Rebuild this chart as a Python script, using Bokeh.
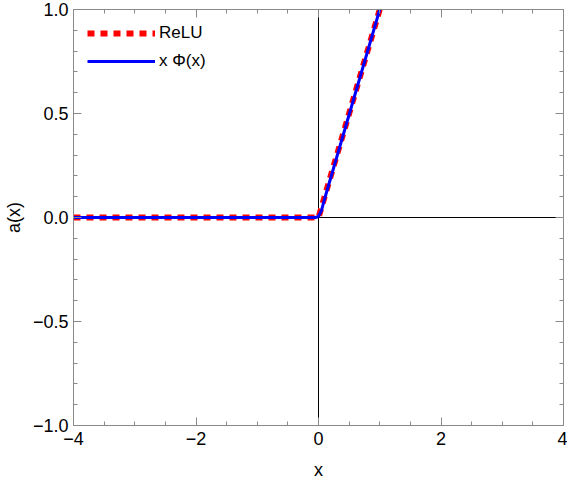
from bokeh.plotting import figure
from bokeh.models import Span, LinearAxis, FixedTicker, Range1d, Legend, LegendItem, CustomJSTickFormatter
from bokeh.embed import file_html
from bokeh.resources import INLINE

# data
relu_x = [-4.0, 0.0, 1.0]
relu_y = [0.0, 0.0, 1.0]
gelu_x = [-4.0, -0.05, 0.0, 0.05, 0.1, 1.0]
gelu_y = [0.0, 0.0, 0.005, 0.035, 0.09, 1.0]

x_ticks = [-4, -2, 0, 2, 4]
x_tick_labels = ["\u22124", "\u22122", "0", "2", "4"]
x_minor = [-3.5, -3, -2.5, -1.5, -1, -0.5, 0.5, 1, 1.5, 2.5, 3, 3.5]
y_ticks = [-1.0, -0.5, 0.0, 0.5, 1.0]
y_tick_labels = ["\u22121.0", "\u22120.5", "0.0", "0.5", "1.0"]
y_minor = [-0.9, -0.8, -0.7, -0.6, -0.4, -0.3, -0.2, -0.1, 0.1, 0.2, 0.3, 0.4, 0.6, 0.7, 0.8, 0.9]

FONT = "Liberation Sans"
AXC = "#8a8a8a"

p = figure(width=567, height=482, output_backend="svg", toolbar_location=None,
           x_range=Range1d(-4, 4), y_range=Range1d(-1, 1),
           x_axis_location=None, y_axis_location=None,
           min_border_left=0, min_border_right=4, min_border_top=9, min_border_bottom=0)
p.grid.visible = False
p.outline_line_color = AXC
p.background_fill_color = "white"
p.border_fill_color = "white"

def style(ax, ticks, minor, overrides, show):
    ax.ticker = FixedTicker(ticks=ticks, minor_ticks=minor)
    ax.axis_line_color = AXC
    ax.major_tick_line_color = AXC
    ax.minor_tick_line_color = AXC
    ax.major_tick_in = 8
    ax.major_tick_out = 0
    ax.minor_tick_in = 4
    ax.minor_tick_out = 0
    if show:
        ax.major_label_overrides = {t: s for t, s in zip(ticks, overrides)}
        ax.major_label_text_font = FONT
        ax.major_label_text_font_size = "18px"
        ax.major_label_text_color = "black"
        ax.axis_label_text_font = FONT
        ax.axis_label_text_font_size = "18px"
        ax.axis_label_text_font_style = "normal"
        ax.axis_label_text_color = "black"
    else:
        ax.formatter = CustomJSTickFormatter(code="return ''")
        ax.major_label_standoff = 0
        ax.axis_label_standoff = 0
        ax.major_label_text_font_size = "0px"

bx = LinearAxis(axis_label="x")
style(bx, x_ticks, x_minor, x_tick_labels, True)
bx.major_label_standoff = 6
bx.axis_label_standoff = 12
p.add_layout(bx, "below")

ly = LinearAxis(axis_label="a(x)")
style(ly, y_ticks, y_minor, y_tick_labels, True)
ly.major_label_standoff = 5
ly.axis_label_standoff = 6
p.add_layout(ly, "left")

ax_top = LinearAxis()
style(ax_top, x_ticks, x_minor, x_tick_labels, False)
p.add_layout(ax_top, "above")
ay_right = LinearAxis()
style(ay_right, y_ticks, y_minor, y_tick_labels, False)
p.add_layout(ay_right, "right")

p.add_layout(Span(location=0, dimension="width", line_color="black", line_width=1, level="image"))
p.add_layout(Span(location=0, dimension="height", line_color="black", line_width=1, level="image"))

r1 = p.line(relu_x, relu_y, line_color="red", line_width=6, line_dash="7 6")
r2 = p.line(gelu_x, gelu_y, line_color="blue", line_width=3)

legend = Legend(items=[LegendItem(label="ReLU", renderers=[r1]),
                       LegendItem(label="x \u03a6(x)", renderers=[r2])],
                location="top_left", background_fill_alpha=0, border_line_color=None,
                label_text_font=FONT, label_text_font_size="17px", label_text_color="black",
                glyph_width=68, glyph_height=20, label_standoff=4, spacing=8,
                margin=14, padding=4)
p.add_layout(legend)

open("out.html", "w").write(file_html(p, INLINE))
